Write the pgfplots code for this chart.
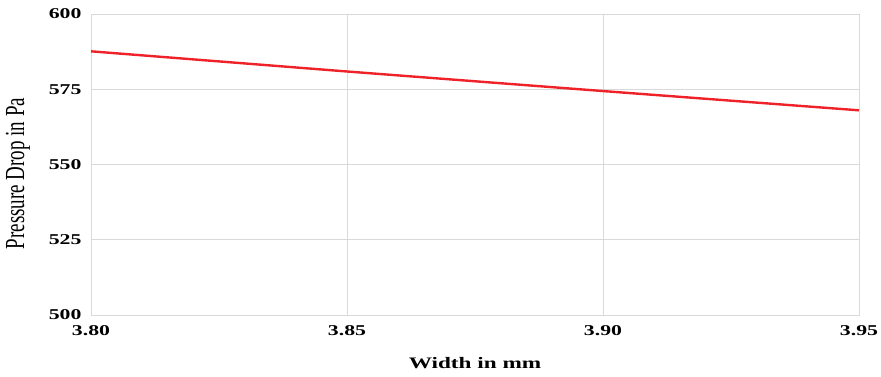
\documentclass[border=0pt]{standalone}
\usepackage{fontspec}
\setmainfont{Liberation Serif}[FakeStretch=1.45]
\newfontfamily\ylfont{Liberation Serif}
\usepackage{pgfplots}
\pgfplotsset{compat=1.18}
\definecolor{gridgray}{RGB}{217,217,217}
\definecolor{linered}{RGB}{238,34,40}
\begin{document}
\begin{tikzpicture}
\path[use as bounding box] (-91bp,-62bp) rectangle (790bp,315bp);
\begin{axis}[
  at={(0,0)}, anchor=south west,
  scale only axis,
  width=768bp, height=301bp,
  xmin=3.80, xmax=3.95, ymin=500, ymax=600,
  xtick={3.80,3.85,3.90,3.95},
  ytick={500,525,550,575,600},
  /pgf/number format/assume math mode=true,
  xticklabel style={/pgf/number format/fixed, /pgf/number format/fixed zerofill, /pgf/number format/precision=2, yshift=-7bp},
  yticklabel style={/pgf/number format/fixed, /pgf/number format/precision=0, xshift=-6bp},
  ticklabel style={font=\fontsize{15bp}{18bp}\selectfont\bfseries},
  scaled x ticks=false, scaled y ticks=false,
  major tick length=0pt,
  grid=major,
  major grid style={gridgray, line width=0.8bp},
  axis line style={gridgray, line width=0.8bp},
  xlabel={Width in mm},
  xlabel style={at={(axis description cs:0.5,0)}, anchor=center, yshift=-48bp, font=\fontsize{16bp}{19bp}\selectfont\bfseries},
  ylabel={\scalebox{1}[1.45]{\ylfont\fontsize{19bp}{22bp}\selectfont Pressure Drop in Pa}},
  ylabel style={at={([xshift=-73bp]axis description cs:0,0.47)}, anchor=center},
]
\addplot[linered, line width=2.4bp, no markers] coordinates {
  (3.80,587.6) (3.85,580.9) (3.90,574.4) (3.95,568.0)
};
\end{axis}
\end{tikzpicture}
\end{document}
